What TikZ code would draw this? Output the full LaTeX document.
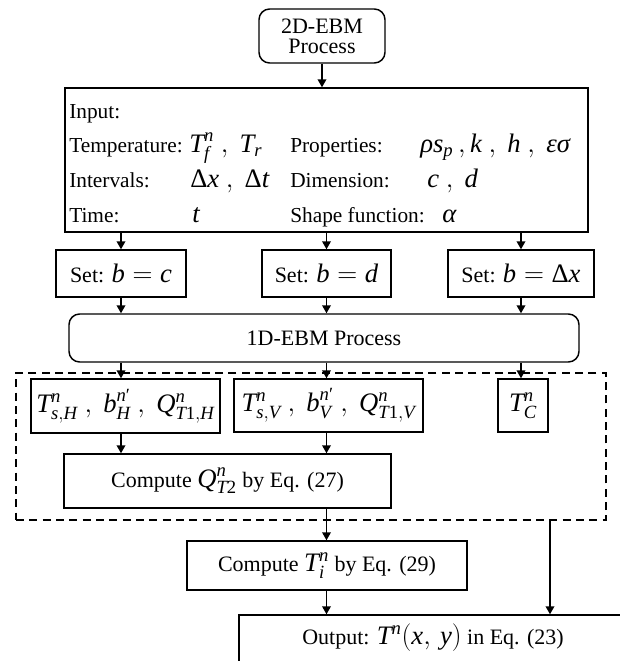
\documentclass[tikz,border=0pt]{standalone}
\usepackage{amsmath}
\usepackage{fontspec}
\setmainfont{Liberation Serif}
\usetikzlibrary{arrows.meta,fit}
\newcommand\vv[1]{\textit{#1}}
\newcommand\M[1]{{\fontsize{20}{20}\selectfont$#1$}}
\begin{document}
\begin{tikzpicture}[x=0.75pt,y=-0.75pt,
  box/.style={draw, line width=1.1pt, inner sep=0pt, align=center},
  rbox/.style={box, rounded corners=8pt},
  dbox/.style={draw, line width=1.1pt, inner sep=0pt, dash pattern=on 6pt off 4pt},
  txt/.style={inner sep=0pt, font=\fontsize{16}{18}\selectfont},
  btxt/.style={font=\fontsize{16.5}{18}\selectfont},
  arr/.style={line width=1.1pt, -{Triangle[width=6.5pt,length=6pt]}}]
\useasboundingbox (0,0) rectangle (620,661);
\fill[white] (0,0) rectangle (620,661);
\clip (0,0) rectangle (620,661);

% top
\node[rbox, minimum width=94.5pt, minimum height=40.5pt, font=\fontsize{16.5}{15}\selectfont] (e2d) at (322,36) {2D-EBM\\Process};

% input box
\node[box, fit={(65,88) (588,232)}] (inp) {};
\node[txt, anchor=base west] (l1) at (69,118) {Input:};
\node[txt, anchor=base west] (l2) at (69,152) {Temperature:};
\node[txt, anchor=base west] (m2) at (189,152) {\M{\vv{T}^{\vv{n}}_{\vv{f}}\ ,\ \vv{T}_{\vv{r}}}};
\node[txt, anchor=base west] (p2) at (290,152) {Properties:};
\node[txt, anchor=base west] (q2) at (420,152) {\M{\vv{ρ}\vv{s}_{\vv{p}}\,,\vv{k}\ ,\ \vv{h}\ ,\ \vv{ε}\vv{σ}}};
\node[txt, anchor=base west] (l3) at (69,187) {Intervals:};
\node[txt, anchor=base west] (m3) at (190,187) {\M{\textup{Δ}\vv{x}\ ,\ \textup{Δ}\vv{t}}};
\node[txt, anchor=base west] (p3) at (290,187) {Dimension:};
\node[txt, anchor=base west] (q3) at (427,187) {\M{\vv{c}\ ,\ \vv{d}}};
\node[txt, anchor=base west] (l4) at (69,222) {Time:};
\node[txt, anchor=base west] (m4) at (192,222) {\M{\vv{t}}};
\node[txt, anchor=base west] (p4) at (290,222) {Shape function:};
\node[txt, anchor=base west] (q4) at (442,222) {\M{\vv{α}}};

% set boxes
\node[box, btxt, minimum width=97.5pt, minimum height=35.25pt] (set1) at (121,273.5) {Set: \M{\vv{b}=\vv{c}}};
\node[box, btxt, minimum width=96.75pt, minimum height=35.25pt] (set2) at (326.5,273.5) {Set: \M{\vv{b}=\vv{d}}};
\node[box, btxt, minimum width=109.5pt, minimum height=35.25pt] (set3) at (521,273.5) {Set: \M{\vv{b}=\textup{Δ}\vv{x}}};

% 1D
\node[rbox, btxt, minimum width=382.5pt, minimum height=36pt] (e1d) at (324,338) {1D-EBM Process};

% dashed group
\node[dbox, fit={(16,373) (606,520)}] (grp) {};
\node[box, minimum width=141.75pt, minimum height=40.5pt] (tsh) at (125.5,406) {\M{\vv{T}^{\vv{n}}_{\vv{s},\vv{H}}\ ,\ \vv{b}^{\vv{n}\textup{′}}_{\vv{H}}\ ,\ \vv{Q}^{\vv{n}}_{\vv{T}\textup{1},\vv{H}}}};
\node[box, minimum width=141.75pt, minimum height=39.75pt] (tsv) at (328.5,405.5) {\M{\vv{T}^{\vv{n}}_{\vv{s},\vv{V}}\ ,\ \vv{b}^{\vv{n}\textup{′}}_{\vv{V}}\ ,\ \vv{Q}^{\vv{n}}_{\vv{T}\textup{1},\vv{V}}}};
\node[box, minimum width=37.5pt, minimum height=39.75pt] (tc) at (523,405.5) {\M{\vv{T}^{\vv{n}}_{\vv{C}}}};
\node[box, btxt, minimum width=245.25pt, minimum height=40.5pt] (cq) at (227.5,481) {Compute \M{\vv{Q}^{\vv{n}}_{\vv{T}\textup{2}}} by Eq. (27)};

% lower
\node[box, btxt, minimum width=210pt, minimum height=36.75pt] (cti) at (327,565.5) {Compute \M{\vv{T}^{\vv{n}}_{\vv{i}}} by Eq. (29)};
\node[box, fit={(239,615) (700,720)}] (out) {};
\node[btxt, inner sep=0pt] (outtxt) at (433,638) {Output: \M{\vv{T}^{\vv{n}}(\vv{x},\,\vv{y})} in Eq. (23)};
\coordinate (rc) at (550,0);

% connectors
\draw[arr] (e2d.south) -- (e2d.south |- inp.north);
\foreach \s in {set1,set2,set3}{
  \draw[arr] (inp.south -| \s) -- (\s.north);
  \draw[arr] (\s.south) -- (\s.south |- e1d.north);
}
\draw[arr] (e1d.south -| set1) -- (set1 |- tsh.north);
\draw[arr] (e1d.south -| set2) -- (set2 |- tsv.north);
\draw[arr] (e1d.south -| set3) -- (set3 |- tc.north);
\draw[arr] (tsh.south -| set1) -- (set1 |- cq.north);
\draw[arr] (tsv.south -| set2) -- (set2 |- cq.north);
\draw[arr] (cq.south -| set2) -- (set2 |- cti.north);
\draw[arr] (cti.south -| set2) -- (set2 |- out.north);
\draw[arr] (grp.south -| rc) -- (out.north -| rc);
\end{tikzpicture}
\end{document}
